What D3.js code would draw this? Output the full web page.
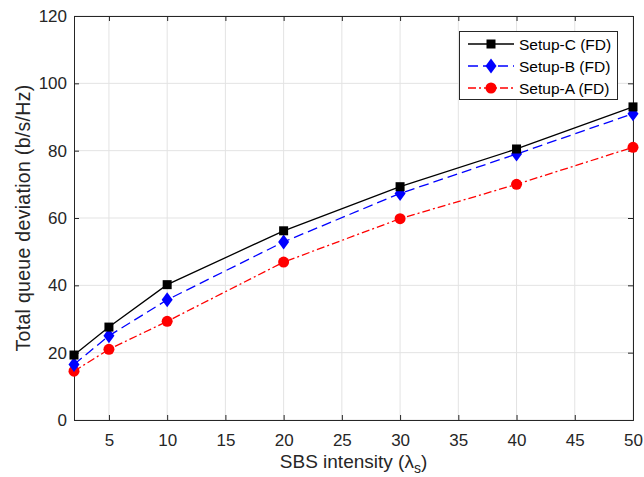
<!DOCTYPE html>
<html>
<head>
<meta charset="utf-8">
<script src="https://cdn.jsdelivr.net/npm/d3@7"></script>
<style>
  body { margin: 0; background: #fff; }
  text { font-family: "Liberation Sans", Arial, sans-serif; }
</style>
</head>
<body>
<div id="chart"></div>
<script>
var width = 644, height = 477;

var xValues = [2, 5, 10, 20, 30, 40, 50];
var setupC = [19.3, 27.6, 40.2, 56.2, 69.3, 80.5, 93.0];
var setupB = [16.5, 25.0, 35.7, 52.9, 67.3, 79.0, 91.0];
var setupA = [14.5, 21.0, 29.3, 46.9, 59.8, 70.0, 81.0];
var xTicks = [5, 10, 15, 20, 25, 30, 35, 40, 45, 50];
var yTicks = [0, 20, 40, 60, 80, 100, 120];

var series = [
  { name: "Setup-C (FD)", values: setupC, color: "#000000", dash: null, marker: "square" },
  { name: "Setup-B (FD)", values: setupB, color: "#0000ff", dash: "10,5", marker: "diamond" },
  { name: "Setup-A (FD)", values: setupA, color: "#ff0000", dash: "8,3,2,3", marker: "circle" }
];

var mLeft = 74, mRight = 633, mTop = 16, mBottom = 420;

var svg = d3.select("#chart").append("svg")
  .attr("width", width)
  .attr("height", height);

var xScale = d3.scaleLinear().domain([2, 50]).range([mLeft, mRight]);
var yScale = d3.scaleLinear().domain([0, 120]).range([mBottom, mTop]);

// grid
svg.append("g").selectAll("line")
  .data(xTicks)
  .enter().append("line")
  .attr("x1", function(d) { return xScale(d); })
  .attr("x2", function(d) { return xScale(d); })
  .attr("y1", mTop).attr("y2", mBottom)
  .attr("stroke", "#e3e3e3").attr("stroke-width", 1);

svg.append("g").selectAll("line")
  .data(yTicks)
  .enter().append("line")
  .attr("y1", function(d) { return yScale(d); })
  .attr("y2", function(d) { return yScale(d); })
  .attr("x1", mLeft).attr("x2", mRight)
  .attr("stroke", "#e3e3e3").attr("stroke-width", 1);

// axes
var xAxis = d3.axisBottom(xScale).tickValues(xTicks).tickSize(-5).tickPadding(14);
var yAxis = d3.axisLeft(yScale).tickValues(yTicks).tickSize(-5).tickPadding(7);
var xTop = d3.axisTop(xScale).tickValues(xTicks).tickSize(-5).tickFormat("");
var yRight = d3.axisRight(yScale).tickValues(yTicks).tickSize(-5).tickFormat("");

function styleAxis(g) {
  g.select(".domain").attr("stroke", "#262626");
  g.selectAll(".tick line").attr("stroke", "#262626");
  g.selectAll(".tick text").attr("fill", "#262626").style("font-size", "17px")
    .style("font-family", "'Liberation Sans', Arial, sans-serif");
}

svg.append("g").attr("transform", "translate(0," + mBottom + ")").call(xAxis).call(styleAxis);
svg.append("g").attr("transform", "translate(" + mLeft + ",0)").call(yAxis).call(styleAxis);
svg.append("g").attr("transform", "translate(0," + mTop + ")").call(xTop).call(styleAxis);
svg.append("g").attr("transform", "translate(" + mRight + ",0)").call(yRight).call(styleAxis);

// axis labels
var xl = svg.append("text")
  .attr("x", (mLeft + mRight) / 2)
  .attr("y", 468)
  .attr("text-anchor", "middle")
  .attr("fill", "#262626")
  .style("font-size", "19px");
xl.append("tspan").text("SBS intensity (");
xl.append("tspan").text("\u03bb");
xl.append("tspan").attr("dy", 5).style("font-size", "14px").text("s");
xl.append("tspan").attr("dy", -5).text(")");

svg.append("text")
  .attr("transform", "translate(30," + ((mTop + mBottom) / 2) + ") rotate(-90)")
  .attr("text-anchor", "middle")
  .attr("fill", "#262626")
  .style("font-size", "19.5px")
  .style("letter-spacing", "0.3px")
  .text("Total queue deviation (b/s/Hz)");

var line = d3.line()
  .x(function(d, i) { return xScale(xValues[i]); })
  .y(function(d) { return yScale(d); });

function drawMarker(g, type, color, x, y) {
  if (type === "square") {
    g.append("rect").attr("x", x - 4.5).attr("y", y - 4.5).attr("width", 9).attr("height", 9)
      .attr("fill", color);
  } else if (type === "diamond") {
    g.append("path").attr("d", "M" + x + "," + (y - 7.5) + "L" + (x + 5.5) + "," + y + "L" + x + "," + (y + 7.5) + "L" + (x - 5.5) + "," + y + "Z")
      .attr("fill", color);
  } else {
    g.append("circle").attr("cx", x).attr("cy", y).attr("r", 5.5).attr("fill", color);
  }
}

// draw A first, then B, then C on top
series.slice().reverse().forEach(function(s) {
  var g = svg.append("g");
  g.append("path")
    .attr("d", line(s.values))
    .attr("fill", "none")
    .attr("stroke", s.color)
    .attr("stroke-width", 1.3)
    .attr("stroke-dasharray", s.dash);
  s.values.forEach(function(v, i) {
    drawMarker(g, s.marker, s.color, xScale(xValues[i]), yScale(v));
  });
});

// legend
var lg = svg.append("g");
lg.append("rect")
  .attr("x", 459.5).attr("y", 31.5).attr("width", 158).attr("height", 68)
  .attr("fill", "#fff").attr("stroke", "#262626").attr("stroke-width", 1);

series.forEach(function(s, i) {
  var y = 44 + i * 22;
  lg.append("line")
    .attr("x1", 468).attr("x2", 514).attr("y1", y).attr("y2", y)
    .attr("stroke", s.color).attr("stroke-width", 1.3)
    .attr("stroke-dasharray", s.dash);
  drawMarker(lg, s.marker, s.color, 491, y);
  lg.append("text")
    .attr("x", 519).attr("y", y + 5.5)
    .attr("fill", "#000")
    .style("font-size", "15.5px")
    .text(s.name);
});
</script>
</body>
</html>
